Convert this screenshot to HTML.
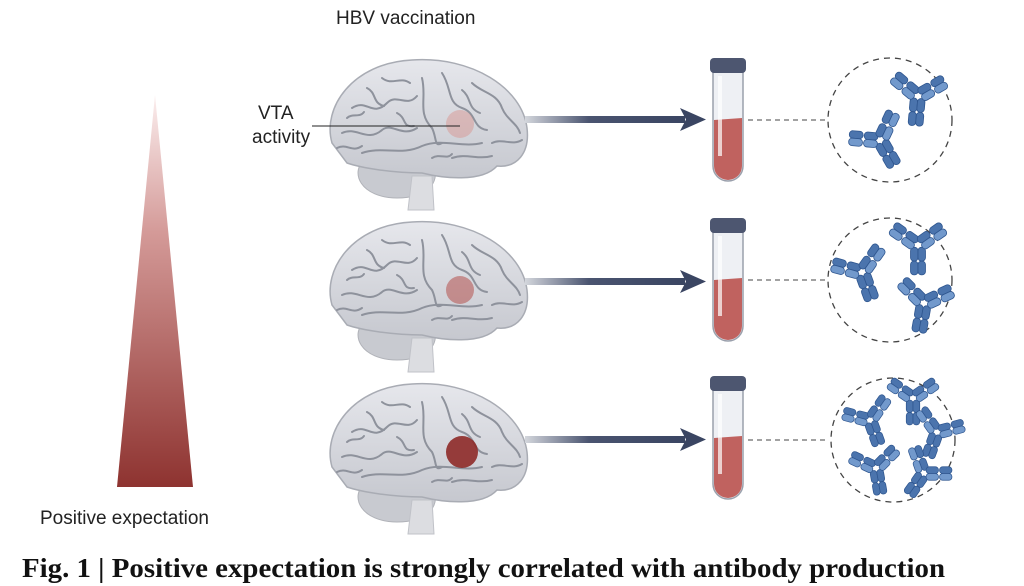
<!DOCTYPE html>
<html><head><meta charset="utf-8"><style>
html,body{margin:0;padding:0;background:#fff;}
svg{display:block;}
</style></head><body>
<svg width="1024" height="586" viewBox="0 0 1024 586" xmlns="http://www.w3.org/2000/svg">
<defs>
<linearGradient id="tri" x1="0" y1="0" x2="0" y2="1">
<stop offset="0" stop-color="#fbeeee"/><stop offset="0.35" stop-color="#d49a98"/><stop offset="1" stop-color="#8e3330"/>
</linearGradient>
<linearGradient id="arr" x1="0" y1="0" x2="1" y2="0">
<stop offset="0" stop-color="#d3d6dc"/><stop offset="0.4" stop-color="#4a5470"/><stop offset="1" stop-color="#3a4562"/>
</linearGradient>
<linearGradient id="brainG" x1="0" y1="0" x2="0" y2="1">
<stop offset="0" stop-color="#e6e7ec"/><stop offset="1" stop-color="#c6c8cf"/>
</linearGradient>
<g id="brain">
<path d="M45,108 C25,125 40,150 75,150 C105,150 118,135 112,118 Z" fill="#c8cad0" stroke="#b0b2b8"/>
<path d="M90,128 L86,162 L112,162 L110,128 Z" fill="#dcdde1" stroke="#c0c2c8"/>
<path d="M10,95 C0,60 30,15 90,12 C150,8 200,40 205,80 C208,105 195,120 175,118 C160,135 120,130 100,125 C70,125 40,120 25,115 Z" fill="url(#brainG)" stroke="#a9acb4" stroke-width="1.5"/>
<g fill="none" stroke="#8e929c" stroke-width="2" stroke-linecap="round">
<path d="M30,60 C45,50 50,70 65,55 C75,45 85,60 95,48"/>
<path d="M20,85 C35,78 45,95 60,82 C70,74 80,90 95,80"/>
<path d="M40,105 C60,98 80,108 100,98 C120,90 140,100 160,95"/>
<path d="M100,30 C105,50 95,65 110,80 C115,90 112,100 120,95"/>
<path d="M120,25 C130,40 125,55 140,60 C155,65 150,80 165,82"/>
<path d="M150,35 C160,45 175,45 180,60 C185,72 195,75 198,85"/>
<path d="M60,30 C70,38 78,28 88,35"/>
<path d="M130,110 C145,105 155,112 170,108"/>
<path d="M25,70 C30,65 38,70 42,64"/>
<path d="M45,40 C55,45 50,55 62,58"/>
<path d="M75,65 C85,70 80,80 92,78"/>
<path d="M140,42 C150,50 145,60 158,65"/>
<path d="M170,95 C180,90 190,98 200,92"/>
<path d="M15,100 C25,95 30,105 40,98"/>
<path d="M110,110 C118,105 125,112 130,106"/>
</g>
</g>
<g id="abBase" stroke="#2f568f" stroke-width="0.7">
<rect x="-6.5" y="2" width="6.5" height="12" rx="3" fill="#4b74ad"/>
<rect x="0" y="2" width="6.5" height="12" rx="3" fill="#4b74ad"/>
<rect x="-6.5" y="14" width="6.5" height="12" rx="3" fill="#4b74ad"/>
<rect x="0" y="14" width="6.5" height="12" rx="3" fill="#4b74ad"/>
<g transform="rotate(-55)">
<rect x="-0.5" y="-27" width="6.5" height="12" rx="3" fill="#4b74ad"/>
<rect x="-0.5" y="-14" width="6.5" height="12" rx="3" fill="#4b74ad"/>
<rect x="-7" y="-27" width="6.5" height="12" rx="3" fill="#7299cc"/>
<rect x="-7" y="-14" width="6.5" height="12" rx="3" fill="#7299cc"/>
</g>
<g transform="rotate(55)">
<rect x="-6" y="-27" width="6.5" height="12" rx="3" fill="#4b74ad"/>
<rect x="-6" y="-14" width="6.5" height="12" rx="3" fill="#4b74ad"/>
<rect x="0.5" y="-27" width="6.5" height="12" rx="3" fill="#7299cc"/>
<rect x="0.5" y="-14" width="6.5" height="12" rx="3" fill="#7299cc"/>
</g>
</g>
<g id="ab"><use href="#abBase" transform="scale(1.15)"/></g>
<g id="tube">
<path d="M3,14 L3,108 A15,15 0 0 0 33,108 L33,14 Z" fill="#eef0f4" stroke="#9aa0ac" stroke-width="1.5"/>
<path d="M4,62 L32,60 L32,108 A14,14 0 0 1 4,108 Z" fill="#c0625f"/>
<rect x="8" y="18" width="4" height="80" fill="#fff" opacity="0.7"/>
<rect x="0" y="0" width="36" height="15" rx="4" fill="#4d5670"/>
</g>
</defs>

<polygon points="155,95 117,487 193,487" fill="url(#tri)"/>
<text x="40" y="524" font-family="Liberation Sans, sans-serif" font-size="19" fill="#222">Positive expectation</text>
<text x="336" y="24" font-family="Liberation Sans, sans-serif" font-size="19" fill="#222">HBV vaccination</text>
<text x="258" y="119" font-family="Liberation Sans, sans-serif" font-size="19" fill="#222">VTA</text>
<text x="252" y="143" font-family="Liberation Sans, sans-serif" font-size="19" fill="#222">activity</text>

<!-- row 1 -->
<use href="#brain" transform="translate(322,48)"/>
<circle cx="460" cy="124" r="14" fill="#d9877f" opacity="0.4"/>
<line x1="312" y1="126" x2="460" y2="126" stroke="#222" stroke-width="1"/>
<rect x="525" y="116" width="160" height="7" fill="url(#arr)"/>
<polygon points="680,108 706,119.5 680,131 686,119.5" fill="#3a4562"/>
<use href="#tube" transform="translate(710,58)"/>
<line x1="748" y1="120" x2="828" y2="120" stroke="#444" stroke-dasharray="5,4"/>
<circle cx="890" cy="120" r="62" fill="none" stroke="#444" stroke-width="1.3" stroke-dasharray="6,5"/>
<use href="#ab" transform="translate(918,96) rotate(5)"/>
<use href="#ab" transform="translate(880,140) rotate(-30)"/>

<!-- row 2 -->
<use href="#brain" transform="translate(322,210)"/>
<circle cx="460" cy="290" r="14" fill="#b5504d" opacity="0.55"/>
<rect x="525" y="278" width="160" height="7" fill="url(#arr)"/>
<polygon points="680,270 706,281.5 680,293 686,281.5" fill="#3a4562"/>
<use href="#tube" transform="translate(710,218)"/>
<line x1="748" y1="280" x2="828" y2="280" stroke="#444" stroke-dasharray="5,4"/>
<circle cx="890" cy="280" r="62" fill="none" stroke="#444" stroke-width="1.3" stroke-dasharray="6,5"/>
<use href="#ab" transform="translate(918,245)"/>
<use href="#ab" transform="translate(862,272) rotate(-20)"/>
<use href="#ab" transform="translate(924,303) rotate(10)"/>

<!-- row 3 -->
<use href="#brain" transform="translate(322,372)"/>
<circle cx="462" cy="452" r="16" fill="#8e2a28" opacity="0.9"/>
<rect x="525" y="436" width="160" height="7" fill="url(#arr)"/>
<polygon points="680,428 706,439.5 680,451 686,439.5" fill="#3a4562"/>
<use href="#tube" transform="translate(710,376)"/>
<line x1="748" y1="440" x2="828" y2="440" stroke="#444" stroke-dasharray="5,4"/>
<circle cx="893" cy="440" r="62" fill="none" stroke="#444" stroke-width="1.3" stroke-dasharray="6,5"/>
<use href="#ab" transform="translate(913,398) scale(0.9)"/>
<use href="#ab" transform="translate(870,420) rotate(-20) scale(0.9)"/>
<use href="#ab" transform="translate(937,432) rotate(20) scale(0.9)"/>
<use href="#ab" transform="translate(876,468) rotate(-10) scale(0.9)"/>
<use href="#ab" transform="translate(924,473) rotate(35) scale(0.9)"/>

<text x="22" y="577" font-family="Liberation Serif, serif" font-weight="bold" font-size="27" fill="#111" textLength="923" lengthAdjust="spacingAndGlyphs">Fig. 1 | Positive expectation is strongly correlated with antibody production</text>
</svg>
</body></html>
